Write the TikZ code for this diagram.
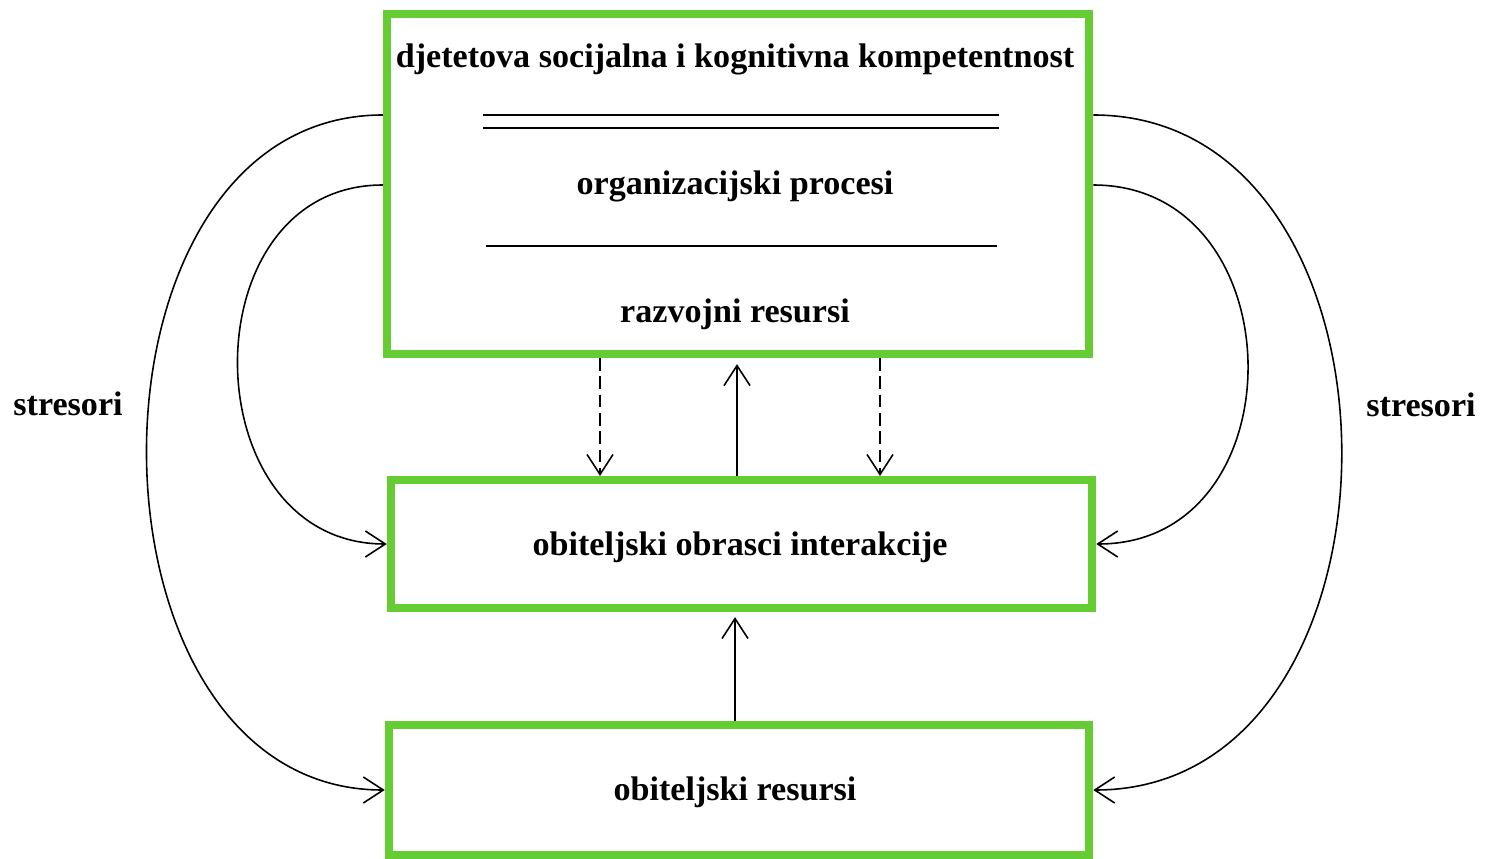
\documentclass[tikz,border=0pt]{standalone}
\usepackage{fontspec}
\setmainfont{Liberation Serif}
\usetikzlibrary{arrows.meta}
\definecolor{okvirzelena}{RGB}{102,204,51}
\tikzset{
  okvir/.style={draw=okvirzelena, line width=2.3pt, inner sep=0pt},
  tekst/.style={font=\bfseries\fontsize{9.7}{12}\selectfont, inner sep=0pt, anchor=base},
  veza/.style={-{Straight Barb[length=2mm,width=2.6mm]}, line width=0.45pt},
  crta/.style={line width=0.6pt}
}
\begin{document}
\begin{tikzpicture}[x=0.01cm, y=-0.01cm]
      \useasboundingbox (0,0) rectangle (1492,858);
      \draw
        (738,184) node[okvir, minimum width=7.02cm, minimum height=3.40cm] (dijete){}
        (741.5,544) node[okvir, minimum width=7.01cm, minimum height=1.28cm] (obrasci){}
        (739,790) node[okvir, minimum width=7.00cm, minimum height=1.30cm] (obitelj){};
      \draw
        (735,68) node[tekst] (kompetencija){djetetova socijalna i kognitivna kompetentnost}
        (735,195) node[tekst] (procesi){organizacijski procesi}
        (735,322) node[tekst] (razvoj){razvojni resursi}
        (740,555) node[tekst] (interakcija){obiteljski obrasci interakcije}
        (735,800) node[tekst] (resursi){obiteljski resursi}
        (68,415) node[tekst] (stresL){stresori}
        (1421,416) node[tekst] (stresD){stresori};
      % crte u gornjem okviru
      \draw[crta] (483,115) -- (999,115);
      \draw[crta] (483,128) -- (999,128);
      \draw[crta] (486,246) -- (997,246);
      \begin{scope}[veza]
        \draw (dijete.west |- 0,115) .. controls +(-316,0) and +(-316,0) .. (obitelj.west);
        \draw (dijete.west |- 0,185) .. controls +(-196,0) and +(-196,0) .. (obrasci.west);
        \draw (dijete.east |- 0,115) .. controls +(331,0) and +(331,0) .. (obitelj.east);
        \draw (dijete.east |- 0,185) .. controls +(204,0) and +(204,0) .. (obrasci.east);
        \draw[dash pattern=on 3.6pt off 1.6pt] (dijete.south -| 600,0) -- (obrasci.north -| 600,0);
        \draw[dash pattern=on 3.6pt off 1.6pt] (dijete.south -| 880,0) -- (obrasci.north -| 880,0);
        \draw[shorten >=0.6mm] (obrasci.north -| 737,0) -- (dijete.south -| 737,0);
        \draw[shorten >=0.5mm] (obitelj.north -| 735,0) -- (obrasci.south -| 735,0);
      \end{scope}
    \end{tikzpicture}
\end{document}
